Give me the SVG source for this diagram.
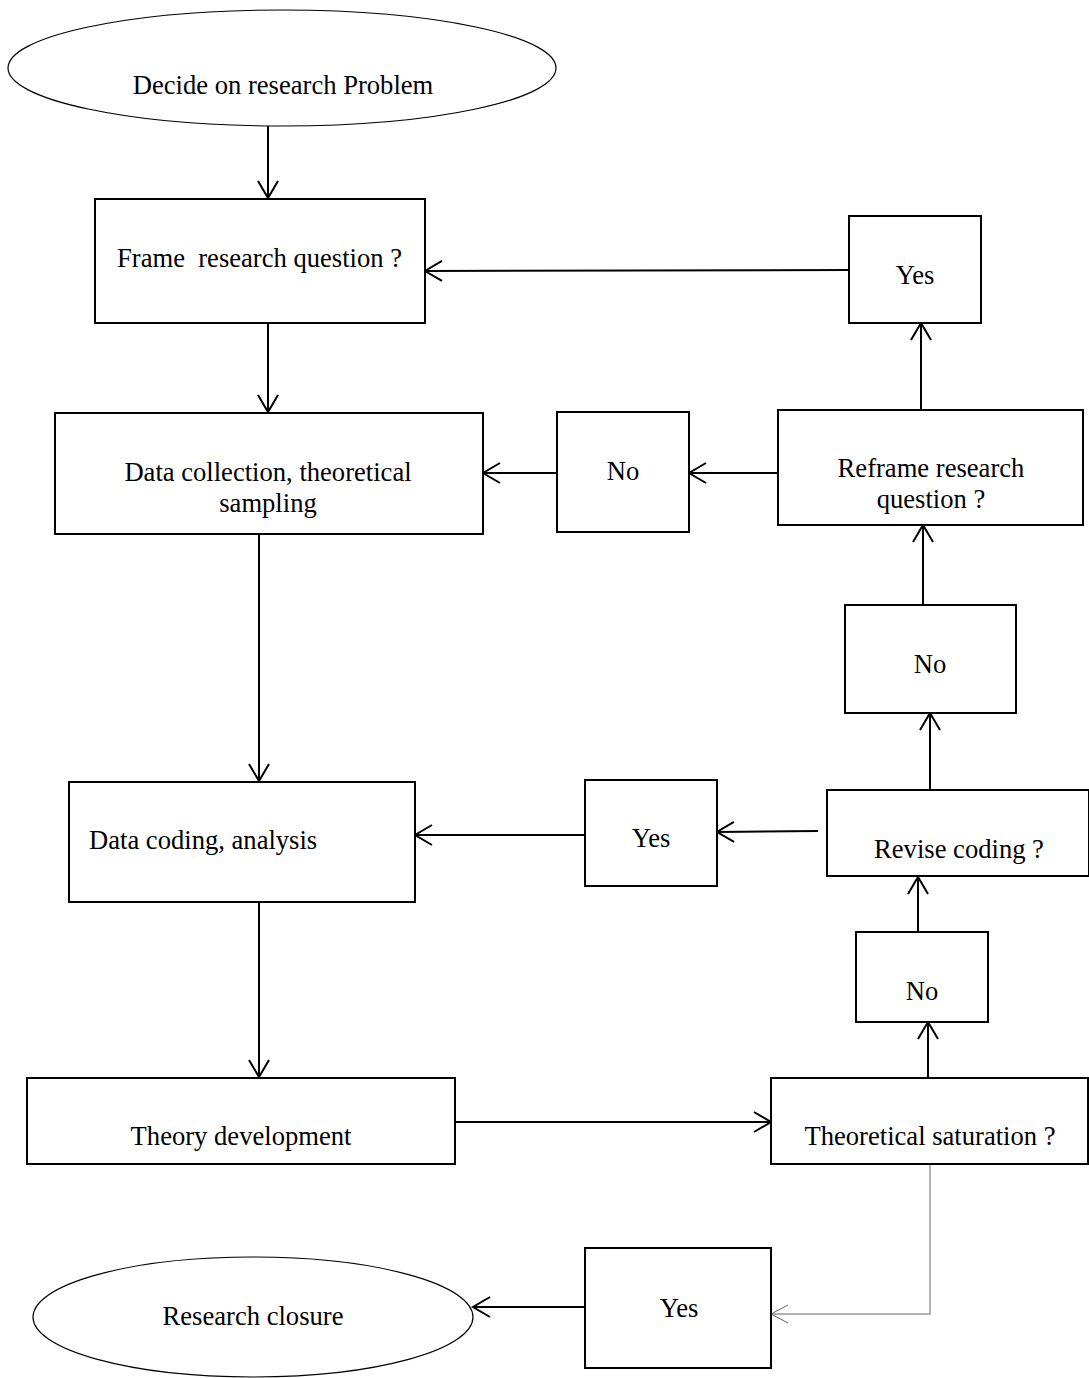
<svg xmlns="http://www.w3.org/2000/svg" width="1089" height="1378" viewBox="0 0 1089 1378">
<style>
.box{fill:#fff;stroke:#000;stroke-width:2}
.ell{fill:#fff;stroke:#000;stroke-width:1.2}
.t{font-family:"Liberation Serif","Times New Roman",serif;font-size:26.6px;fill:#000;white-space:pre}
.c{text-anchor:middle}
.ln{fill:none;stroke:#000;stroke-width:2}
.gl{fill:none;stroke:#999;stroke-width:1.5}
</style>
<defs>
<marker id="ah" markerUnits="userSpaceOnUse" markerWidth="24" markerHeight="24" refX="20" refY="12" orient="auto">
<path d="M3,2 L20,12 L3,22" fill="none" stroke="#000" stroke-width="2"/>
</marker>
<marker id="ahg" markerUnits="userSpaceOnUse" markerWidth="24" markerHeight="24" refX="20" refY="12" orient="auto">
<path d="M3,3 L20,12 L3,21" fill="none" stroke="#666" stroke-width="1"/>
</marker>
</defs>
<rect width="1089" height="1378" fill="#fff"/>
<g id="connectors">
<line class="ln" x1="268" y1="126" x2="268" y2="198" marker-end="url(#ah)"/>
<line class="ln" x1="849" y1="270" x2="425" y2="271" marker-end="url(#ah)"/>
<line class="ln" x1="268" y1="323" x2="268" y2="412" marker-end="url(#ah)"/>
<line class="ln" x1="557" y1="473" x2="483" y2="473" marker-end="url(#ah)"/>
<line class="ln" x1="777" y1="473" x2="689" y2="473" marker-end="url(#ah)"/>
<line class="ln" x1="921" y1="410" x2="921" y2="323" marker-end="url(#ah)"/>
<line class="ln" x1="923" y1="605" x2="923" y2="525" marker-end="url(#ah)"/>
<line class="ln" x1="930" y1="790" x2="930" y2="713" marker-end="url(#ah)"/>
<line class="ln" x1="818" y1="831" x2="717" y2="832" marker-end="url(#ah)"/>
<line class="ln" x1="585" y1="835" x2="415" y2="835" marker-end="url(#ah)"/>
<line class="ln" x1="259" y1="534" x2="259" y2="781" marker-end="url(#ah)"/>
<line class="ln" x1="259" y1="902" x2="259" y2="1077" marker-end="url(#ah)"/>
<line class="ln" x1="455" y1="1122" x2="771" y2="1122" marker-end="url(#ah)"/>
<line class="ln" x1="928" y1="1078" x2="928" y2="1022" marker-end="url(#ah)"/>
<line class="ln" x1="918" y1="932" x2="918" y2="877" marker-end="url(#ah)"/>
<line class="ln" x1="585" y1="1307" x2="473" y2="1307" marker-end="url(#ah)"/>
<polyline class="gl" points="930,1164 930,1314 771,1314" marker-end="url(#ahg)"/>
</g>
<g id="n-decide">
<ellipse class="ell" cx="282" cy="68" rx="274" ry="58"/>
<text class="t c" x="283" y="94">Decide on research Problem</text>
</g>
<g id="n-frame">
<rect class="box" x="95" y="199" width="330" height="124"/>
<text class="t" x="117" y="267">Frame  research question ?</text>
</g>
<g id="n-yes1">
<rect class="box" x="849" y="216" width="132" height="107"/>
<text class="t c" x="915" y="284">Yes</text>
</g>
<g id="n-datacollection">
<rect class="box" x="55" y="413" width="428" height="121"/>
<text class="t c" x="268" y="481">Data collection, theoretical</text>
<text class="t c" x="268" y="512">sampling</text>
</g>
<g id="n-no1">
<rect class="box" x="557" y="412" width="132" height="120"/>
<text class="t c" x="623" y="480">No</text>
</g>
<g id="n-reframe">
<rect class="box" x="778" y="410" width="305" height="115"/>
<text class="t c" x="931" y="477">Reframe research</text>
<text class="t c" x="931" y="508">question ?</text>
</g>
<g id="n-no2">
<rect class="box" x="845" y="605" width="171" height="108"/>
<text class="t c" x="930" y="673">No</text>
</g>
<g id="n-revise">
<rect class="box" x="827" y="790" width="262" height="86"/>
<text class="t c" x="959" y="858">Revise coding ?</text>
</g>
<g id="n-yes2">
<rect class="box" x="585" y="780" width="132" height="106"/>
<text class="t c" x="651" y="847">Yes</text>
</g>
<g id="n-datacoding">
<rect class="box" x="69" y="782" width="346" height="120"/>
<text class="t" x="89" y="849">Data coding, analysis</text>
</g>
<g id="n-no3">
<rect class="box" x="856" y="932" width="132" height="90"/>
<text class="t c" x="922" y="1000">No</text>
</g>
<g id="n-theory">
<rect class="box" x="27" y="1078" width="428" height="86"/>
<text class="t c" x="241" y="1145">Theory development</text>
</g>
<g id="n-saturation">
<rect class="box" x="771" y="1078" width="317" height="86"/>
<text class="t c" x="930" y="1145">Theoretical saturation ?</text>
</g>
<g id="n-yes3">
<rect class="box" x="585" y="1248" width="186" height="120"/>
<text class="t c" x="679" y="1317">Yes</text>
</g>
<g id="n-closure">
<ellipse class="ell" cx="253" cy="1317" rx="220" ry="60"/>
<text class="t c" x="253" y="1325">Research closure</text>
</g>
</svg>
